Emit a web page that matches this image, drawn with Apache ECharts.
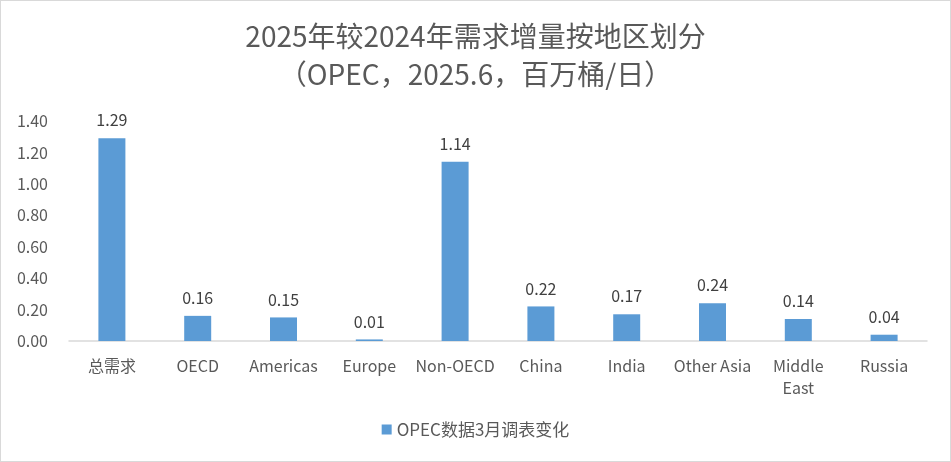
<!DOCTYPE html>
<html><head><meta charset="utf-8">
<script src="https://cdn.jsdelivr.net/npm/echarts@6/dist/echarts.min.js"></script>
<style>html,body{margin:0;padding:0;background:#fff}#c{width:951px;height:462px;box-sizing:border-box;border:1px solid #d9d9d9}</style>
</head><body><div id="c"></div>
<script>
var categories = ['总需求','OECD','Americas','Europe','Non-OECD','China','India','Other Asia','Middle East','Russia'];
var values = [1.29,0.16,0.15,0.01,1.14,0.22,0.17,0.24,0.14,0.04];
var seriesName = 'OPEC数据3月调表变化';
var titleText = '2025年较2024年需求增量按地区划分\n（OPEC，2025.6，百万桶/日）';
var font = '"Noto Sans CJK SC","Noto Sans",sans-serif';
var chart = echarts.init(document.getElementById('c'));
chart.setOption({
  animation:false,
  title:{text:titleText,left:'center',top:11,textStyle:{color:'#595959',fontSize:28,fontWeight:'normal',fontFamily:font,lineHeight:38}},
  legend:{bottom:18,left:'center',itemWidth:10,itemHeight:10,icon:'rect',itemGap:6,textStyle:{color:'#595959',fontSize:17,fontFamily:font}},
  grid:{left:68,right:23,top:120,bottom:120,containLabel:false},
  xAxis:{type:'category',data:categories,axisLine:{lineStyle:{color:'#d9d9d9',width:1.5}},axisTick:{show:false},
    axisLabel:{color:'#595959',fontSize:16,fontFamily:font,margin:14,interval:0,lineHeight:22,
      formatter:function(v){return v==='Middle East'?'Middle\nEast':v;}}},
  yAxis:{type:'value',min:0,max:1.4,interval:0.2,splitLine:{show:false},axisLine:{show:false},axisTick:{show:false},
    axisLabel:{color:'#595959',fontSize:16,fontFamily:font,margin:21,formatter:function(v){return v.toFixed(2);}}},
  series:[{name:seriesName,type:'bar',data:values,barWidth:27,itemStyle:{color:'#5b9bd5'},
    label:{show:true,position:'top',distance:10,color:'#404040',fontSize:16,fontFamily:font,formatter:function(p){return p.value.toFixed(2);}}}]
});
</script></body></html>
